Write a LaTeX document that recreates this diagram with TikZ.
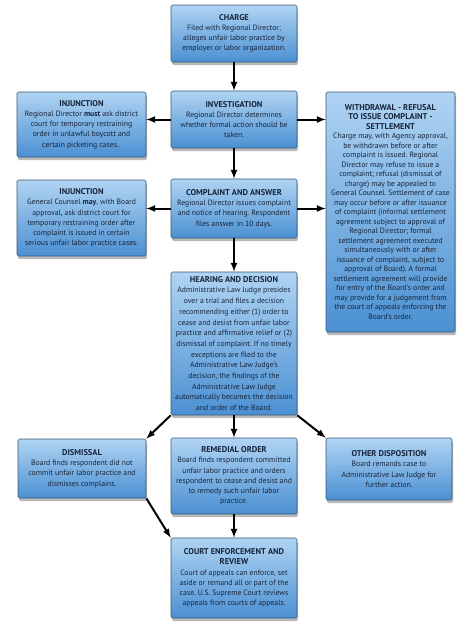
\documentclass[tikz,border=0pt]{standalone}
\usepackage{fontspec}
\setmainfont{PT Sans}
\usepackage{tikz}
\usetikzlibrary{shadows}
\frenchspacing
\definecolor{boxtop}{HTML}{B0D4F3}
\definecolor{boxbot}{HTML}{4B90D2}
\definecolor{boxedge}{HTML}{3A5878}
\definecolor{txtnavy}{HTML}{16243A}
\newcommand{\boxtitle}[1]{{\fontsize{8.4}{10.2}\selectfont\textbf{#1}}}
\tikzstyle{stepbox}=[draw=boxedge, line width=0.6pt, rounded corners=1.5pt, top color=boxtop, bottom color=boxbot, drop shadow={opacity=0.55, shadow xshift=1pt, shadow yshift=-3pt}, text=txtnavy, align=center, inner sep=2pt, font=\fontsize{7.7}{10.2}\selectfont]
\tikzstyle{flow}=[line width=2pt]
\tikzstyle{dflow}=[flow,-latex]

\begin{document}
\begin{tikzpicture}[x=1pt,y=-1pt]
			\useasboundingbox (0,0) rectangle (474,632);
			\node[stepbox, minimum width=126pt, minimum height=57pt] (charge) at (234,33.5) {\boxtitle{CHARGE}\\Filed with Regional Director;\\alleges unfair labor practice by\\employer or labor organization.};
			\node[stepbox, minimum width=126pt, minimum height=57pt] (inv) at (234,119.5) {\boxtitle{INVESTIGATION}\\Regional Director determines\\whether formal action should be\\taken.};
			\node[stepbox, minimum width=129pt, minimum height=65pt] (inj1) at (81.5,124.5) {\boxtitle{INJUNCTION}\\Regional Director \textbf{must} ask district\\court for temporary restraining\\order in unlawful boycott and\\certain picketing cases..};
			\node[stepbox, minimum width=129pt, minimum height=240pt, font=\fontsize{7.7}{9.5}\selectfont] (wd) at (390.5,212) {\boxtitle{WITHDRAWAL - REFUSAL}\\\boxtitle{TO ISSUE COMPLAINT -}\\\boxtitle{SETTLEMENT}\\Charge may, with Agency approval,\\be withdrawn before or after\\complaint is issued. Regional\\Director may refuse to issue a\\complaint; refusal (dismissal of\\charge) may be appealed to\\General Counsel. Settlement of case\\may occur before or after issuance\\of complaint (informal settlement\\agreement subject to approval of\\Regional Director; formal\\settlement agreement executed\\simultaneously with or after\\issuance of complaint, subject to\\approval of Board). A formal\\settlement agreement will provide\\for entry of the Board's order and\\may provide for a judgement from\\the court of appeals enforcing the\\Board's order.};
			\node[stepbox, minimum width=129pt, minimum height=76pt] (inj2) at (81.5,218) {\boxtitle{INJUNCTION}\\General Counsel \textbf{may}, with Board\\approval, ask district court for\\temporary restraining order after\\complaint is issued in certain\\serious unfair labor practice cases.};
			\node[stepbox, minimum width=126pt, minimum height=59pt] (cmp) at (234,208.5) {\boxtitle{COMPLAINT AND ANSWER}\\Regional Director issues complaint\\and notice of hearing. Respondent\\files answer in 10 days.};
			\node[stepbox, minimum width=126pt, minimum height=143pt, font=\fontsize{7.7}{10.7}\selectfont] (hear) at (234,343.5) {\boxtitle{HEARING AND DECISION}\\Administrative Law Judge presides\\over a trial and files a decision\\recommending either (1) order to\\cease and desist from unfair labor\\practice and affirmative relief or (2)\\dismissal of complaint. If no timely\\exceptions are filed to the\\Administrative Law Judge's\\decision, the findings of the\\Administrative Law Judge\\automatically becomes the decision\\and order of the Board.};
			\node[stepbox, minimum width=128pt, minimum height=59pt] (dis) at (82,468.5) {\boxtitle{DISMISSAL}\\Board finds respondent did not\\commit unfair labor practice and\\dismisses complains.};
			\node[stepbox, minimum width=126pt, minimum height=76pt] (rem) at (234,476) {\boxtitle{REMEDIAL ORDER}\\Board finds respondent committed\\unfair labor practice and orders\\respondent to cease and desist and\\to remedy such unfair labor\\practice.};
			\node[stepbox, minimum width=126pt, minimum height=62pt] (oth) at (389,469) {\boxtitle{OTHER DISPOSITION}\\Board remands case to\\Administrative Law Judge for\\further action.};
			\node[stepbox, minimum width=126pt, minimum height=80pt] (court) at (234,578) {\boxtitle{COURT ENFORCEMENT AND}\\\boxtitle{REVIEW}\\Court of appeals can enforce, set\\aside or remand all or part of the\\case. U.S. Supreme Court reviews\\appeals from courts of appeals.};
			
			\draw[dflow] (charge) -- (inv);
			\draw[dflow] (inv.west) -- (inv.west -| inj1.east);
			\draw[dflow] (inv.east) -- (inv.east -| wd.west);
			\draw[dflow] (inv) -- (cmp);
			\draw[dflow] (cmp.west) -- (cmp.west -| inj2.east);
			\draw[dflow] (cmp.east) -- (cmp.east -| wd.west);
			\draw[dflow] (cmp) -- (hear);
			
			\draw[dflow] (hear.south west) -- (dis.north east);
			\draw[dflow] (hear) -- (rem);
			\draw[dflow] (hear.south east) -- (oth.north west);
			\draw[dflow] (dis.south east) -- (court.north west);
			\draw[dflow] (rem) -- (court);
		\end{tikzpicture}
\end{document}
